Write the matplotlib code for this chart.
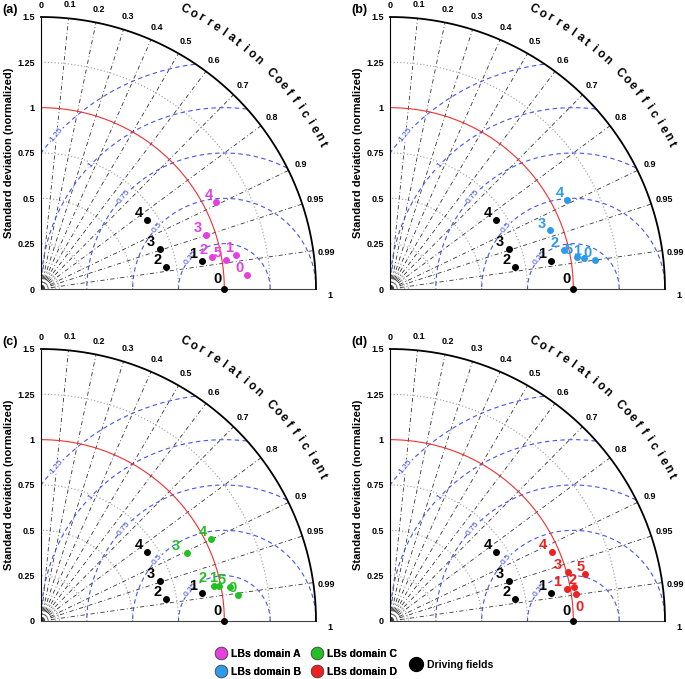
import numpy as np
import matplotlib
matplotlib.use("Agg")
import matplotlib.pyplot as plt
from matplotlib.lines import Line2D

plt.rcParams['font.family'] = ['Liberation Sans', 'DejaVu Sans']

# ---------------- data ----------------
panel_tags = ["(a)", "(b)", "(c)", "(d)"]
series_names = ["LBs domain A", "LBs domain B", "LBs domain C", "LBs domain D"]
series_colors = ["#E53FE0", "#2E9BEA", "#22C022", "#EE2020"]

# driving fields (black), same in every panel: labels, normalized std, correlation
drv_labels = ["0", "1", "2", "3", "4"]
drv_std = [1.00, 0.889, 0.694, 0.683, 0.692]
drv_corr = [1.000, 0.985, 0.984, 0.947, 0.834]

lb_labels = ["0", "1", "2", "3", "4", "5"]
# panel a
a_std = [1.128, 1.080, 0.948, 0.949, 1.070, 1.021]
a_corr = [0.9978, 0.985, 0.982, 0.949, 0.893, 0.988]
# panel b
b_std = [1.127, 1.070, 0.975, 0.931, 1.083, 1.036]
b_corr = [0.990, 0.987, 0.975, 0.938, 0.892, 0.985]
# panel c
c_std = [1.085, 0.988, 0.961, 0.881, 1.031, 1.049]
c_corr = [0.991, 0.981, 0.980, 0.904, 0.899, 0.984]
# panel d
d_std = [1.024, 0.983, 1.021, 1.008, 0.960, 1.094]
d_corr = [0.989, 0.984, 0.983, 0.963, 0.918, 0.971]

panel_std = [a_std, b_std, c_std, d_std]
panel_corr = [a_corr, b_corr, c_corr, d_corr]

corr_ticks = [0, 0.1, 0.2, 0.3, 0.4, 0.5, 0.6, 0.7, 0.8, 0.9, 0.95, 0.99]
corr_tick_labels = ["0", "0.1", "0.2", "0.3", "0.4", "0.5", "0.6", "0.7", "0.8", "0.9", "0.95", "0.99"]
std_ticks = [0, 0.25, 0.5, 0.75, 1, 1.25, 1.5]
std_tick_labels = ["0", "0.25", "0.5", "0.75", "1", "1.25", "1.5"]
std_arcs = [0.25, 0.5, 0.75, 1.25]
rms_levels = [0.25, 0.5, 0.75, 1.0, 1.25]
rms_labels = ["0.25", "0.5", "0.75", "1", "1.25"]

SMAX = 1.5

# label offsets (points) per panel for LB labels
lb_offsets = [
    [(-6, 5), (-5, 5), (-6, 5), (-6, 5), (-5, 5), (-6, 5)],
    [(-5, 5), (-5, 5), (-7, 5), (-6, 5), (-5, 5), (-6, 5)],
    [(-4, 5), (-4, 6), (-8, 6), (-8, 5), (-6, 5), (-6, 5)],
    [(3, -10), (-7, 5), (-1, 5), (-7, 5), (-6, 5), (-3, 5)],
]
drv_offsets = [(-5, 7), (-6, 5), (-6, 5), (-6, 5), (-6, 5)]

fig = plt.figure(figsize=(6.85, 6.79), dpi=100)

W, H = 685.0, 679.0
origins = [(41, 289), (390, 289), (41, 621), (390, 621)]
tag_pos = [(2, 10), (351, 10), (2, 342), (351, 342)]
axw, axh = 275.0, 272.0


def draw_panel(ax, idx, std, corr, color):
    ax.set_xlim(0, SMAX)
    ax.set_ylim(0, SMAX)
    for s in ["top", "right"]:
        ax.spines[s].set_visible(False)
    ax.spines["left"].set_color("black")
    ax.spines["left"].set_linewidth(0.8)
    ax.spines["bottom"].set_color("#444444")
    ax.spines["bottom"].set_linewidth(0.8)
    ax.set_xticks([])
    ax.set_yticks(std_ticks)
    ax.set_yticklabels(std_tick_labels, fontsize=6.5, fontweight="bold")
    ax.tick_params(axis="y", length=0, pad=4.5)
    ax.set_ylabel("Standard deviation (normalized)", fontsize=8, fontweight="bold", labelpad=2)

    th = np.linspace(0, np.pi / 2, 300)
    # outer arc
    ax.plot(SMAX * np.cos(th), SMAX * np.sin(th), color="black", lw=1.3, clip_on=False, zorder=3)
    # std arcs
    for r in std_arcs:
        ax.plot(r * np.cos(th), r * np.sin(th), color="#999999", lw=0.8, ls=(0, (1, 2)), zorder=1)
    for r in [0.04, 0.06, 0.08, 0.10]:
        ax.plot(r * np.cos(th), r * np.sin(th), color="#777777", lw=0.5, ls=(0, (1, 1)), zorder=1)
    # red std=1 arc
    ax.plot(np.cos(th), np.sin(th), color="#F03030", lw=0.8, zorder=2)
    # radial correlation lines
    for c in corr_ticks[1:]:
        a = np.arccos(c)
        ax.plot([0, SMAX * np.cos(a)], [0, SMAX * np.sin(a)], color="#333333", lw=0.6,
                ls=(0, (5, 3, 1, 3)), zorder=1)
    # correlation labels
    for c, lab in zip(corr_ticks, corr_tick_labels):
        a = np.arccos(c)
        r = 1.565 if c < 0.05 else 1.575
        dy = -0.02 if c > 0.98 else 0.0
        ax.text(r * np.cos(a), r * np.sin(a) + dy, lab, fontsize=6.5, ha="center", va="center",
                fontweight="bold", clip_on=False)
    ax.text(1.575, -0.035, "1", fontsize=6.5, ha="center", va="center", fontweight="bold", clip_on=False)
    # curved axis title
    title = "Correlation Coefficient"
    angs = np.linspace(63.0, 27.4, len(title))
    for ch, ang in zip(title, angs):
        a = np.deg2rad(ang)
        ax.text(1.73 * np.cos(a), 1.73 * np.sin(a), ch, rotation=ang - 90, fontsize=8.5,
                fontweight="bold", ha="center", va="center", rotation_mode="anchor", clip_on=False)
    # RMS contours centered at (1,0)
    tt = np.linspace(0, np.pi, 600)
    for R, lab in zip(rms_levels, rms_labels):
        x = 1 + R * np.cos(tt)
        y = R * np.sin(tt)
        mask = (np.hypot(x, y) <= SMAX) & (x >= 0)
        x = np.where(mask, x, np.nan)
        y = np.where(mask, y, np.nan)
        ax.plot(x, y, color="#4455EE", lw=0.8, ls=(0, (4, 3)), zorder=1.5)
        a = np.deg2rad(137)
        ax.text(1 + R * np.cos(a), R * np.sin(a), lab, color="#3344DD", fontsize=6,
                rotation=50, ha="center", va="center", zorder=2,
                bbox=dict(boxstyle="square,pad=0.05", fc="white", ec="none"))

    # driving fields
    for lab, s, c, off in zip(drv_labels, drv_std, drv_corr, drv_offsets):
        a = np.arccos(c)
        x, y = s * np.cos(a), s * np.sin(a)
        ax.plot(x, y, "o", color="black", ms=4, zorder=5, clip_on=False)
        ax.annotate(lab, (x, y), xytext=off, textcoords="offset points", fontsize=10.5,
                    fontweight="bold", color="black", ha="center", va="center", zorder=6)
    # LB points
    for k, (lab, s, c) in enumerate(zip(lb_labels, std, corr)):
        a = np.arccos(c)
        x, y = s * np.cos(a), s * np.sin(a)
        ax.plot(x, y, "o", color=color, ms=4, zorder=5)
        ax.annotate(lab, (x, y), xytext=lb_offsets[idx][k], textcoords="offset points",
                    fontsize=10.5, fontweight="bold", color=color, ha="center", va="center", zorder=6)


for idx in range(4):
    ox, oy = origins[idx]
    ax = fig.add_axes([ox / W, (H - oy) / H, axw / W, axh / H])
    ax.set_facecolor("none")
    draw_panel(ax, idx, panel_std[idx], panel_corr[idx], series_colors[idx])
    tx, ty = tag_pos[idx]
    fig.text(tx / W, 1 - ty / H, panel_tags[idx], fontsize=9, fontweight="bold",
             ha="left", va="center")

# legends
handles = [Line2D([], [], marker="o", ls="none", ms=9, markerfacecolor=col,
                  markeredgecolor="#555555", markeredgewidth=0.6) for col in series_colors]
leg1 = fig.legend(handles, series_names, ncol=2, loc="center", bbox_to_anchor=(0.447, 0.0235),
                  frameon=False, handletextpad=0.5, columnspacing=1.0, handlelength=1.0,
                  labelspacing=0.75, prop={"weight": "bold", "size": 7.5})
fig.add_artist(leg1)
h2 = [Line2D([], [], marker="o", ls="none", ms=10, markerfacecolor="black",
             markeredgecolor="black")]
fig.legend(h2, ["Driving fields"], loc="center", bbox_to_anchor=(0.66, 0.0205), frameon=False,
           handletextpad=0.5, handlelength=1.0, prop={"weight": "bold", "size": 7.5})

fig.savefig("out.png", dpi=100)
